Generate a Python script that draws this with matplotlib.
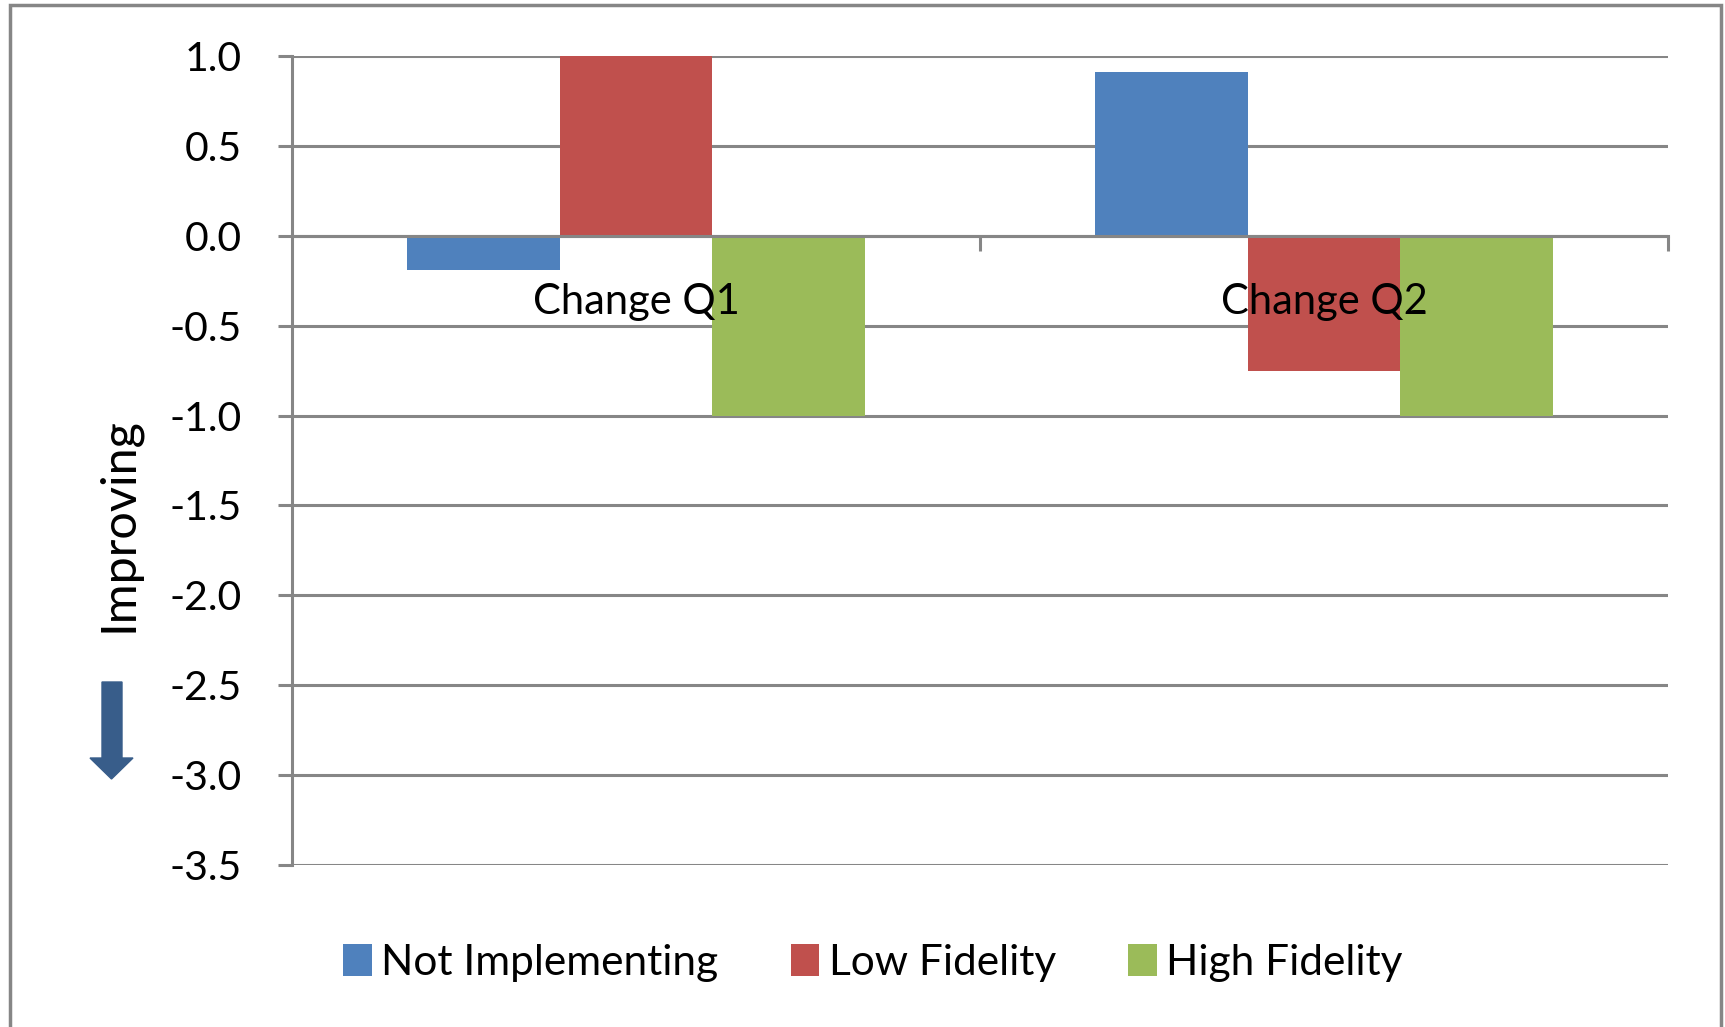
import matplotlib.pyplot as plt
import numpy as np
from matplotlib.patches import Polygon, Rectangle
from matplotlib.ticker import FixedLocator

plt.rcParams['font.family'] = ['Lato', 'DejaVu Sans']
plt.rcParams['axes.unicode_minus'] = False

categories = ['Change Q1', 'Change Q2']
series_names = ['Not Implementing', 'Low Fidelity', 'High Fidelity']
not_implementing = [-0.19, 0.91]
low_fidelity = [1.0, -0.75]
high_fidelity = [-1.0, -1.0]
y_ticks = [1.0, 0.5, 0.0, -0.5, -1.0, -1.5, -2.0, -2.5, -3.0, -3.5]

colors = ['#4F81BD', '#C0504D', '#9BBB59']
grid_grey = '#868686'
W, H = 1725, 1027

fig = plt.figure(figsize=(W / 100, H / 100), dpi=100)
ax = fig.add_axes([292 / W, 1 - 865 / H, (1668 - 292) / W, (865 - 56) / H])

x = np.arange(len(categories))
bar_w = 1 / 4.5
for i, (vals, c, name) in enumerate(zip([not_implementing, low_fidelity, high_fidelity],
                                         colors, series_names)):
    ax.bar(x + (i - 1) * bar_w, vals, width=bar_w, color=c, label=name, zorder=2)

ax.set_xlim(-0.5, 1.5)
ax.set_ylim(-3.5, 1.0)
ax.set_yticks(y_ticks)
ax.set_yticklabels(['%.1f' % v for v in y_ticks])
ax.grid(axis='y', color=grid_grey, linewidth=2.2, zorder=1)
ax.set_axisbelow(True)

for s in ['top', 'right']:
    ax.spines[s].set_visible(False)
ax.spines['left'].set_color(grid_grey)
ax.spines['left'].set_linewidth(2.2)
ax.spines['bottom'].set_position(('data', 0))
ax.spines['bottom'].set_color(grid_grey)
ax.spines['bottom'].set_linewidth(2.2)
ax.spines['bottom'].set_zorder(3)

ax.tick_params(axis='y', direction='out', length=10, width=2.2, color=grid_grey,
               labelsize=29.5, pad=26)
ax.set_xticks(x)
ax.set_xticklabels([])
ax.tick_params(axis='x', which='major', length=0)
ax.xaxis.set_minor_locator(FixedLocator([0.5, 1.5]))
ax.tick_params(axis='x', which='minor', direction='out', length=11, width=2.2,
               color=grid_grey)

# category names sit just under the zero line, over the bars
for xi, name in zip(x, categories):
    ax.text(xi, -0.37, name, ha='center', va='center', fontsize=30, zorder=5)

fig.text(118 / W, 1 - 525 / H, 'Improving', rotation=90, ha='center', va='center',
         fontsize=35)

# downward arrow under the axis title
arrow_px = [(102, 682), (122, 682), (122, 758), (133, 758), (111.5, 779),
            (90, 758), (102, 758)]
fig.patches.append(Polygon([(px / W, 1 - py / H) for px, py in arrow_px],
                           closed=True, color='#385D8A', transform=fig.transFigure))

# chart border
fig.patches.append(Rectangle((10 / W, -0.05), (1721 - 10) / W, 1.05 - 5 / H,
                             fill=False, edgecolor=grid_grey, linewidth=2.5,
                             transform=fig.transFigure))

fig.legend(loc='center', bbox_to_anchor=(873 / W, 1 - 963 / H), ncol=3,
           frameon=False, fontsize=30.5, handlelength=0.68, handleheight=0.8,
           handletextpad=0.22, columnspacing=1.7)

fig.savefig('out.png', dpi=100)
